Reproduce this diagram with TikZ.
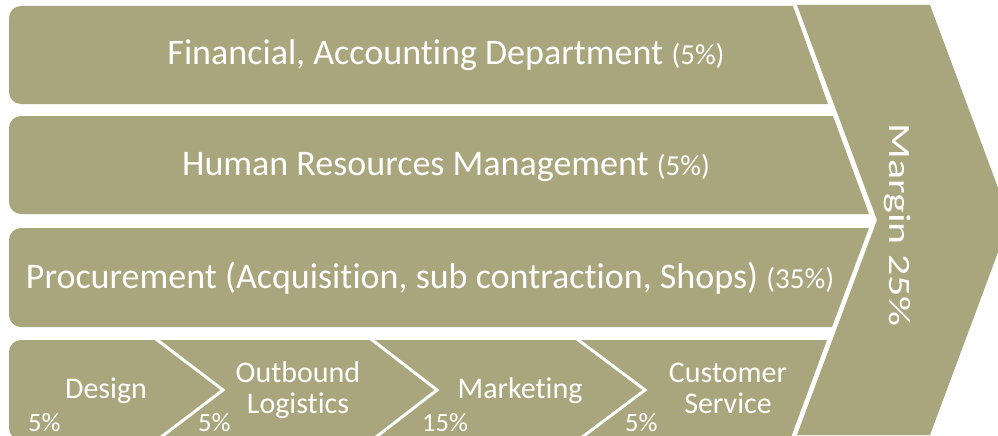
\documentclass[tikz,border=0pt]{standalone}
\usepackage{fontspec}
\setmainfont{Carlito}[Ligatures=NoCommon]
\usepackage{xcolor}
\usepackage{tikz}
\usetikzlibrary{positioning}
\definecolor{band olive}{RGB}{169,165,124}
\newcommand{\share}[1]{{\fontsize{29}{30}\selectfont(#1\%)}}

\begin{document}
\begin{tikzpicture}[x=1pt,y=-1pt,
                    band/.style={fill=band olive},
                    cut/.style={draw=white,line width=3pt},
                    main label/.style={text=white,anchor=base,inner sep=0pt,font=\fontsize{36}{38}\selectfont},
                    step label/.style={text=white,anchor=base,inner sep=0pt,align=center,font=\fontsize{30}{31}\selectfont},
                    pct label/.style={text=white,anchor=base west,inner sep=0pt,font=\fontsize{26.5}{28}\selectfont}]

  \clip (0,0) rectangle (998,436);

  \fill[band] (400,6) [rounded corners=12] -- (9,6) -- (9,104) -- (400,104) [sharp corners] -- (828,104) -- (793,6) -- cycle;
  \fill[band] (400,116) [rounded corners=12] -- (9,116) -- (9,214) -- (400,214) [sharp corners] -- (869,214) -- (833,116) -- cycle;
  \fill[band] (400,228) [rounded corners=12] -- (9,228) -- (9,327) -- (400,327) [sharp corners] -- (832,327) -- (869,228) -- cycle;
  \fill[band] (400,340) [rounded corners=12] -- (9,340) -- (9,440) -- (400,440) [sharp corners] -- (790,440) -- (827,340) -- cycle;
  \fill[band] (797,5) -- (930,5) -- (1010,220) -- (930,435) -- (797,435) -- (877,220) -- cycle;

  \draw[cut] (152,336) -- (223,390) -- (152,444);
  \draw[cut] (367,336) -- (437,390) -- (367,444);
  \draw[cut] (573,336) -- (645,390) -- (573,444);

  \node[main label] (fin)  at (446,65)  {Financial, Accounting Department \share{5}};
  \node[main label] (hr)   at (446,175) {Human Resources Management \share{5}};
  \node[main label] (proc) at (430,288) {Procurement (Acquisition, sub contraction, Shops) \share{35}};

  \node[text=white,rotate=-90,anchor=base,inner sep=0pt,font=\fontsize{31}{32}\selectfont] (margin) at (889,225) {\scalebox{1.35}[1]{Margin 25\%}};

  \node[step label] (design)    at (106,398) {Design};
  \node[step label] (outbound)  at (298,413) {Outbound\\Logistics};
  \node[step label] (marketing) at (520,398) {Marketing};
  \node[step label] (service)   at (728,413) {Customer\\Service};

  \node[pct label] (p1) at (28,431)  {5\%};
  \node[pct label] (p2) at (198,431) {5\%};
  \node[pct label] (p3) at (422,431) {15\%};
  \node[pct label] (p4) at (625,431) {5\%};
\end{tikzpicture}
\end{document}
